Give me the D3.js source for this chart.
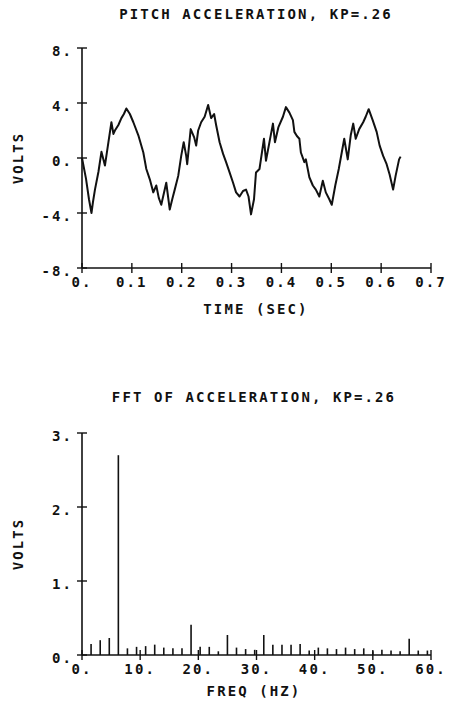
<!DOCTYPE html>
<html>
<head>
<meta charset="utf-8">
<script src="https://cdn.jsdelivr.net/npm/d3@7"></script>
<style>
  body { margin: 0; background: #fff; }
  text { font-family: "DejaVu Sans Mono", monospace; font-size: 14px; font-weight: bold; fill: #111; letter-spacing: 2.1px; }
</style>
</head>
<body>
<svg id="chart" width="451" height="707"></svg>
<script>
// pitch acceleration trace (time in sec, volts)
var timeSec = [0, 0.008, 0.014, 0.019, 0.022, 0.026, 0.033, 0.039, 0.046, 0.053, 0.059, 0.063, 0.066, 0.073,
    0.079, 0.084, 0.089, 0.096, 0.103, 0.113, 0.123, 0.129, 0.136, 0.143, 0.149, 0.154, 0.159, 0.164, 0.169,
    0.176, 0.181, 0.186, 0.193, 0.199, 0.204, 0.209, 0.211, 0.218, 0.225, 0.229, 0.233, 0.239, 0.246, 0.253,
    0.259, 0.265, 0.269, 0.276, 0.283, 0.289, 0.296, 0.303, 0.309, 0.316, 0.323, 0.329, 0.334, 0.339, 0.345,
    0.349, 0.356, 0.365, 0.369, 0.376, 0.383, 0.387, 0.394, 0.403, 0.409, 0.416, 0.423, 0.426, 0.431, 0.436,
    0.439, 0.446, 0.449, 0.456, 0.463, 0.469, 0.476, 0.483, 0.489, 0.496, 0.501, 0.508, 0.515, 0.521, 0.526,
    0.533, 0.539, 0.544, 0.549, 0.556, 0.564, 0.569, 0.575, 0.583, 0.591, 0.597, 0.604, 0.611, 0.617, 0.624,
    0.629, 0.636, 0.639];
var pitchVolts = [0.0, -1.5, -3.0, -4.0, -3.2, -2.3, -1.0, 0.45, -0.55, 1.15, 2.6, 1.75, 2.0, 2.4,
    2.9, 3.2, 3.6, 3.2, 2.6, 1.65, 0.4, -0.8, -1.55, -2.5, -2.0, -2.9, -3.4, -2.6, -1.8,
    -3.75, -3.0, -2.3, -1.3, 0.15, 1.15, 0.15, -0.45, 2.1, 1.5, 0.9, 2.0, 2.6, 3.0, 3.85,
    2.9, 3.2, 2.4, 1.15, 0.3, -0.3, -1.05, -1.8, -2.5, -2.8, -2.4, -2.3, -2.8, -4.1, -3.0,
    -1.05, -0.8, 1.4, -0.2, 1.15, 2.5, 1.15, 2.25, 3.0, 3.7, 3.3, 2.75, 1.9, 1.6, 1.4,
    0.4, -0.3, -0.1, -1.4, -2.0, -2.3, -2.8, -1.65, -2.5, -3.0, -3.4, -2.0, -0.8, 0.4, 1.4,
    -0.1, 1.65, 2.5, 1.4, 2.1, 2.6, 3.0, 3.55, 2.75, 1.9, 0.9, 0.15, -0.45, -1.2, -2.3,
    -1.3, -0.1, 0.1];

// fft lines (hz, volts)
var fftFreq = [1.56, 3.13, 4.69, 6.25, 7.81, 9.38, 10.94, 12.5, 14.06, 15.63, 17.19, 18.75, 20.31, 21.88,
    23.44, 25.0, 26.56, 28.13, 29.69, 31.25, 32.81, 34.38, 35.94, 37.5, 39.06, 40.63, 42.19, 43.75,
    45.31, 46.88, 48.44, 50.0, 51.56, 53.13, 54.69, 56.25, 57.81, 59.38];
var fftVolts = [0.15, 0.2, 0.23, 2.7, 0.09, 0.11, 0.12, 0.14, 0.1, 0.09, 0.09, 0.41, 0.11, 0.11,
    0.05, 0.27, 0.1, 0.08, 0.07, 0.27, 0.14, 0.14, 0.14, 0.15, 0.06, 0.1, 0.09, 0.08,
    0.1, 0.08, 0.09, 0.05, 0.07, 0.06, 0.05, 0.22, 0.06, 0.06];

var timeTicks = [0, 0.1, 0.2, 0.3, 0.4, 0.5, 0.6, 0.7];
var timeTickLabels = ["0.", "0.1", "0.2", "0.3", "0.4", "0.5", "0.6", "0.7"];
var voltTicks = [8, 4, 0, -4, -8];
var voltTickLabels = ["8.", "4.", "0.", "-4.", "-8."];
var freqTicks = [0, 10, 20, 30, 40, 50, 60];
var freqTickLabels = ["0.", "10.", "20.", "30.", "40.", "50.", "60."];
var ampTicks = [0, 1, 2, 3];
var ampTickLabels = ["0.", "1.", "2.", "3."];

var svg = d3.select("#chart");
var ink = "#111";

// draws plotter style axes: ticks cross the line
function drawAxes(g, x, y, xTicks, xLabels, yTicks, yLabels) {
    var x0 = x.range()[0], x1 = x.range()[1];
    var y0 = y.range()[0], y1 = y.range()[1];
    g.append("line").attr("x1", x0).attr("x2", x1).attr("y1", y0).attr("y2", y0)
        .attr("stroke", ink).attr("stroke-width", 1.6);
    g.append("line").attr("x1", x0).attr("x2", x0).attr("y1", y0).attr("y2", y1)
        .attr("stroke", ink).attr("stroke-width", 1.6);
    xTicks.forEach(function (t, i) {
        g.append("line").attr("x1", x(t)).attr("x2", x(t)).attr("y1", y0 - 5).attr("y2", y0 + 5)
            .attr("stroke", ink).attr("stroke-width", 1.4);
        g.append("text").attr("x", x(t)).attr("y", y0 + 19).attr("text-anchor", "middle").text(xLabels[i]);
    });
    yTicks.forEach(function (t, i) {
        g.append("line").attr("x1", x0 - 5).attr("x2", x0 + 5).attr("y1", y(t)).attr("y2", y(t))
            .attr("stroke", ink).attr("stroke-width", 1.4);
        g.append("text").attr("x", x0 - 9).attr("y", y(t) + 8).attr("text-anchor", "end").text(yLabels[i]);
    });
}

// ---- top chart: time trace
var xTime = d3.scaleLinear().domain([0, 0.7]).range([82, 431]);
var yVolt = d3.scaleLinear().domain([-8, 8]).range([268, 48]);
var topG = svg.append("g");
drawAxes(topG, xTime, yVolt, timeTicks, timeTickLabels, voltTicks, voltTickLabels);

var line = d3.line()
    .x(function (d, i) { return xTime(timeSec[i]); })
    .y(function (d) { return yVolt(d); });
topG.append("path").attr("d", line(pitchVolts))
    .attr("fill", "none").attr("stroke", ink).attr("stroke-width", 2).attr("stroke-linejoin", "round");

topG.append("text").attr("x", 256).attr("y", 19).attr("text-anchor", "middle").text("PITCH ACCELERATION, KP=.26");
topG.append("text").attr("x", 256).attr("y", 314).attr("text-anchor", "middle").text("TIME (SEC)");
topG.append("text").attr("transform", "translate(23,158) rotate(-90)").attr("text-anchor", "middle").text("VOLTS");

// ---- bottom chart: fft lines
var xFreq = d3.scaleLinear().domain([0, 60]).range([82, 431]);
var yAmp = d3.scaleLinear().domain([0, 3]).range([655, 433]);
var bottomG = svg.append("g");
drawAxes(bottomG, xFreq, yAmp, freqTicks, freqTickLabels, ampTicks, ampTickLabels);

bottomG.selectAll("line.bar")
    .data(fftVolts)
    .enter()
    .append("line")
    .attr("class", "bar")
    .attr("x1", function (d, i) { return xFreq(fftFreq[i]); })
    .attr("x2", function (d, i) { return xFreq(fftFreq[i]); })
    .attr("y1", yAmp(0))
    .attr("y2", function (d) { return yAmp(d); })
    .attr("stroke", ink).attr("stroke-width", 1.6);

bottomG.append("text").attr("x", 254).attr("y", 402).attr("text-anchor", "middle").text("FFT OF ACCELERATION, KP=.26");
bottomG.append("text").attr("x", 254).attr("y", 696).attr("text-anchor", "middle").text("FREQ (HZ)");
bottomG.append("text").attr("transform", "translate(23,544) rotate(-90)").attr("text-anchor", "middle").text("VOLTS");
</script>
</body>
</html>
